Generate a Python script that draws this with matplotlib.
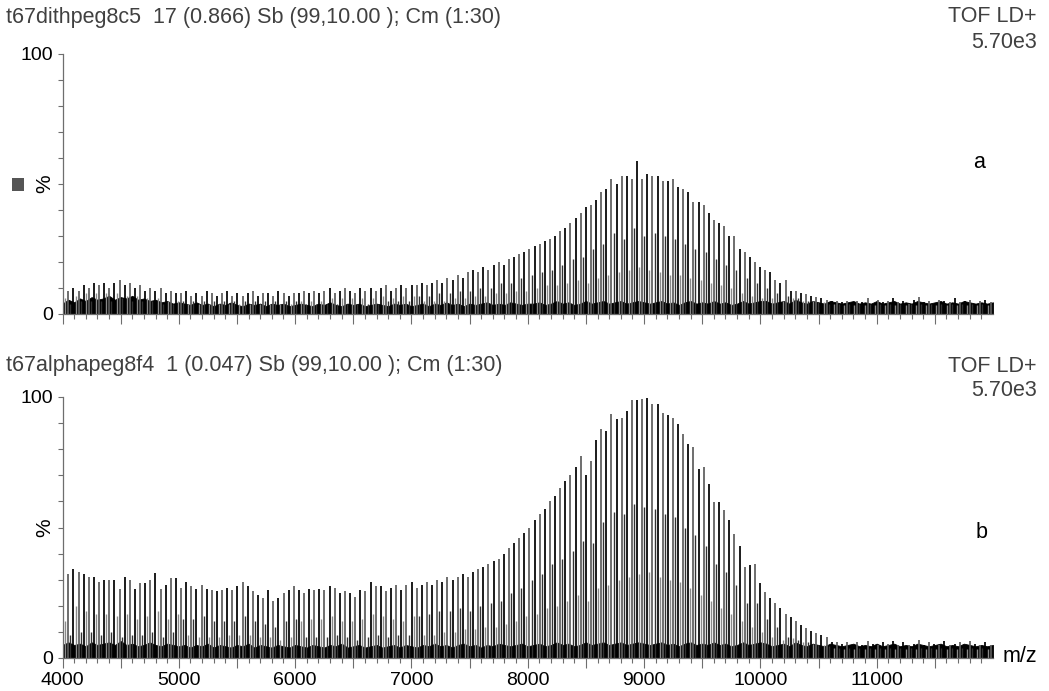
import numpy as np
import matplotlib
matplotlib.use('Agg')
import matplotlib.pyplot as plt
from matplotlib.ticker import FixedLocator, MultipleLocator, FuncFormatter
from matplotlib.patches import Rectangle
import matplotlib.transforms as mtransforms

plt.rcParams['font.family'] = ['Liberation Sans', 'DejaVu Sans']

# PEG ladder: first peak and repeat unit (Da)
first_peak = 4006.0
peg_unit = 44.05
minor_shift = 18.0

# --- panel a (t67dithpeg8c5), % of 5.70e3 ---
top_main = [
    8, 9, 10, 9, 11, 10, 12, 11, 12, 10, 12, 13, 11, 12, 10, 11, 9, 10, 9, 10, 8, 9, 8,
    8, 9, 7, 8, 7, 9, 8, 7, 8, 9, 7, 8, 7, 8, 9, 7, 8, 8, 7, 9, 8, 7, 8,
    8, 9, 8, 9, 8, 9, 10, 8, 9, 10, 9, 8, 10, 9, 10, 9, 10, 11, 9, 10, 11, 10, 11,
    11, 12, 11, 12, 13, 12, 14, 13, 15, 14, 16, 17, 16, 18, 17, 19, 20, 19, 21, 22, 23, 24,
    25, 26, 27, 28, 29, 30, 32, 33, 35, 37,
    39, 41, 42, 44, 47, 48, 52, 50, 53, 53, 52, 59, 52, 54, 53, 53, 51, 51, 52, 49,
    48, 47, 43, 43, 42, 39, 36, 35, 34, 30, 30, 25, 24, 22, 20, 18, 17, 16, 13, 12,
    13, 9, 9, 8, 7.5, 7, 6.5, 6, 5.5, 5, 5, 4.5, 5, 4, 5, 4.5, 6, 4, 5.5, 4.5,
    5, 6, 4.5, 5, 4, 5.5, 6.5, 4.5, 5, 4, 5.5, 5, 4.5, 6, 4.5, 5, 5.5, 4, 5, 5.5, 4.5,
]
top_minor = [
    6, 4, 7, 5, 8, 5, 8, 5, 8, 5, 8, 6, 7, 5, 7, 5, 6, 5, 6, 4, 5, 4, 5,
    5, 4, 5, 4, 5, 4, 5, 4, 5, 4, 5, 4, 5, 4, 5, 4, 5, 4, 5, 4, 5, 4, 5,
    5, 4, 5, 4, 5, 4, 6, 4, 6, 4, 6, 4, 6, 4, 6, 4, 7, 5, 6, 5, 7, 5, 7,
    7, 5, 7, 5, 8, 5, 8, 6, 9, 6, 9, 7, 10, 7, 10, 8, 12, 8, 12, 9, 14, 9,
    15, 10, 16, 11, 17, 11, 19, 12, 21, 13,
    22, 12, 25, 14, 27, 15, 31, 16, 29, 17, 33, 18, 30, 17, 31, 16, 30, 15, 29, 15,
    27, 14, 25, 13, 24, 12, 21, 11, 19, 10, 17, 8, 14, 7, 12, 6, 10, 6, 8, 5,
    7, 6, 6, 5, 5, 5, 4.5, 4.5, 4, 4, 4, 3.5, 4, 3.5, 4, 3.5, 4, 3.5, 4, 3.5,
    4, 3.5, 4, 3.5, 4, 3.5, 4, 3.5, 4, 3.5, 4, 3.5, 4, 3.5, 4, 3.5, 4, 3.5, 4, 3.5, 4,
]
# baseline noise band, every 50 Da from 4000 to 12000
top_floor = [
    4, 5.5, 4.5, 6, 5, 6.5, 5.5, 6, 7, 5.5, 6.5, 6, 7, 5.5, 6, 5, 5.5, 4.5, 5, 4, 4.5,
    4, 3.5, 4.5, 3.5, 4, 3, 4, 3.5, 4.5, 3.5, 3, 4, 3.5, 4, 3, 4, 3.5, 4, 3, 3.5,
    4, 3.5, 3, 4, 3.5, 4.5, 3.5, 3, 4, 3.5, 4, 3, 3.5, 4, 3.5, 3, 4, 3.5, 4, 3,
    3.5, 4, 3, 4, 3.5, 4.5, 3.5, 4, 3, 4, 3.5, 4, 4.5, 3.5, 4, 3.5, 4.5, 4, 3.5, 4,
    4, 4.5, 3.5, 4, 5, 4, 4.5, 3.5, 4, 5, 4, 4.5, 5, 4, 4.5, 5, 4, 4.5, 5, 4.5,
    4, 4.5, 5, 4, 4.5, 3.5, 4.5, 5, 4, 4.5, 4, 5, 4, 4.5, 3.5, 4, 5, 4, 4.5, 5,
    5, 4, 4.5, 5, 4, 5.5, 4.5, 4, 5, 4.5, 4, 5, 4.5, 4, 4.5, 5, 4, 4.5, 4, 5,
    4, 4.5, 5, 4, 4.5, 4, 5, 4.5, 4, 4.5, 5, 4, 4.5, 4, 5, 4.5, 4, 4.5, 4, 4.5,
]

# --- panel b (t67alphapeg8f4), % of 5.70e3 ---
bot_main = [
    22, 32, 34, 33, 32, 31, 31, 29, 30, 30, 30, 26.5, 31, 30, 26.5, 28.7, 28.7, 30, 32.6, 26.6, 28, 30.5, 30.5,
    27, 29, 27.5, 26.5, 28, 26.5, 26, 25.7, 26, 27, 26, 27.5, 29, 27.5, 25.7, 24, 23, 26, 22, 23, 25, 26, 27.5,
    26, 25, 26.5, 26, 26.5, 26, 27.5, 27, 25, 25.5, 25, 23.5, 26, 25.7, 29, 27.5, 27.5, 25.5, 27, 28, 26, 28, 29,
    27, 28, 29, 28, 30, 29, 31, 30, 31, 32, 31, 33, 34, 35, 36, 37, 38, 40, 42, 44, 46, 48,
    50, 53, 55, 57, 60, 62, 65, 68, 70, 73,
    77.5, 70, 75.6, 83.6, 87.8, 87, 93.6, 91.6, 92, 94.7, 98.8, 98.8, 99.2, 99.6, 97.3, 97.3, 94, 93, 92, 89.8,
    85.8, 82, 81, 72.5, 73, 66.8, 59.7, 59.7, 56.8, 52.7, 47.7, 43, 35, 35.5, 36, 28.6, 25.3, 22.9, 21, 19,
    17, 15.6, 14.2, 12.6, 11.4, 10.5, 9.5, 8.9, 8, 6.2, 6, 5.5, 6, 5, 6, 5, 6.5, 5.5, 5, 6,
    5.5, 6.5, 5, 6, 5, 5.5, 7, 5, 6, 5.5, 5, 6.5, 5, 5.5, 6, 5, 6.5, 5.5, 5, 6, 5,
]
bot_minor = [
    14, 9, 20, 10, 18, 10, 17, 9, 17, 10, 16, 8, 17, 9, 15, 9, 16, 10, 18, 8, 15, 10, 17,
    15, 9, 15, 8, 16, 8, 14, 8, 14, 9, 14, 9, 16, 9, 14, 8, 13, 8, 12, 7, 14, 8, 15,
    14, 8, 15, 8, 15, 8, 16, 9, 14, 8, 14, 7, 15, 8, 17, 9, 16, 8, 15, 9, 14, 9, 16,
    16, 9, 17, 9, 18, 10, 18, 10, 19, 11, 18, 11, 20, 12, 21, 12, 22, 13, 25, 14, 27, 16,
    30, 17, 32, 19, 36, 20, 38, 22, 41, 24,
    45, 22, 44, 27, 52, 28, 56, 30, 55, 31, 59, 32, 58, 33, 57, 31, 55, 30, 54, 29,
    50, 27, 47, 24, 43, 22, 36, 19, 33, 17, 28, 14, 21, 12, 21, 10, 15, 8, 12, 7,
    8, 7.5, 7, 6, 6, 5.5, 5, 5, 4.5, 4, 4, 3.5, 4, 3.5, 4, 3.5, 4, 3.5, 4, 3.5,
    4, 3.5, 4, 3.5, 4, 3.5, 4, 3.5, 4, 3.5, 4, 3.5, 4, 3.5, 4, 3.5, 4, 3.5, 4, 3.5, 4,
]
bot_floor = [
    5, 6, 5, 5.5, 4.5, 6, 5, 5.5, 6, 5, 6.5, 5, 5.5, 4.5, 5, 6, 5, 4.5, 5.5, 5, 4.5,
    5, 4, 5, 4.5, 5.5, 4, 5, 4.5, 4, 5, 4.5, 5.5, 4, 5, 4.5, 4, 5, 4.5, 4, 5,
    4.5, 4, 5, 4.5, 4, 5, 4.5, 5.5, 4, 4.5, 5, 4, 4.5, 5, 4, 4.5, 5, 4, 5, 4.5,
    4, 5, 4.5, 5.5, 4.5, 5, 4, 5, 5.5, 4.5, 5, 4, 5, 4.5, 5.5, 5, 4.5, 5, 5.5, 4.5,
    5, 5.5, 4.5, 5, 6, 5, 5.5, 4.5, 5, 6, 5, 5.5, 6, 5, 5.5, 6, 5, 5.5, 6, 5.5,
    5, 5.5, 6, 5, 5.5, 4.5, 5.5, 6, 5, 5.5, 5, 6, 5, 5.5, 4.5, 5, 6, 5, 5.5, 6,
    5.5, 4.5, 5, 5.5, 4.5, 6, 5, 4.5, 5.5, 5, 4.5, 5.5, 5, 4.5, 5, 5.5, 4.5, 5, 4.5, 5.5,
    4.5, 5, 5.5, 4.5, 5, 4.5, 5.5, 5, 4.5, 5, 5.5, 4.5, 5, 4.5, 5.5, 5, 4.5, 5, 4.5, 5,
]

titles = ['t67dithpeg8c5  17 (0.866) Sb (99,10.00 ); Cm (1:30)',
          't67alphapeg8f4  1 (0.047) Sb (99,10.00 ); Cm (1:30)']
mode_text = 'TOF LD+'
scale_text = '5.70e3'
tags = ['a', 'b']

W, H = 1049, 691
fig = plt.figure(figsize=(W / 100, H / 100), dpi=100)
ax_top = fig.add_axes([62.5 / W, 1 - 314 / H, 930.5 / W, 260 / H])
ax_bot = fig.add_axes([62.5 / W, 1 - 658 / H, 930.5 / W, 261 / H])

GREY = '#5c5c5c'
AXC = '#6e6e6e'


def draw_spectrum(ax, main, minor, floor):
    mz = first_peak + peg_unit * np.arange(len(main))
    mz2 = first_peak + minor_shift + peg_unit * np.arange(len(minor))
    main = np.array(main)
    minor = np.array(minor)
    fx = np.linspace(4000, 12000, len(floor))
    ax.fill_between(fx, 0, floor, color='black', lw=0.6, zorder=1)
    ax.vlines(mz2[::2], 0, minor[::2], colors='#8a8a8a', lw=1.0, zorder=1.5)
    ax.vlines(mz2[1::2], 0, minor[1::2], colors='#333333', lw=1.0, zorder=1.5)
    ax.vlines(mz[::2], 0, main[::2], colors='black', lw=1.25, zorder=2)
    ax.vlines(mz[1::2], 0, main[1::2], colors=GREY, lw=1.25, zorder=2)


def style_axis(ax, show_xlabels):
    ax.set_xlim(4000, 12000)
    ax.set_ylim(0, 100)
    for s in ['top', 'right']:
        ax.spines[s].set_visible(False)
    for s in ['left', 'bottom']:
        ax.spines[s].set_color(AXC)
        ax.spines[s].set_linewidth(0.9)
    ax.yaxis.set_major_locator(MultipleLocator(10))
    ax.yaxis.set_major_formatter(FuncFormatter(lambda v, p: '%d' % v if int(round(v)) in (0, 100) else ''))
    ax.xaxis.set_major_locator(FixedLocator(np.arange(4000, 12000, 500)))
    ax.xaxis.set_minor_locator(FixedLocator(np.arange(4000, 12000, 100)))
    ax.xaxis.set_major_formatter(FuncFormatter(lambda v, p: '%d' % v if int(v) % 1000 == 0 else ''))
    ax.tick_params(axis='y', length=3.6, width=0.8, color=AXC, pad=3, labelsize=14)
    ax.tick_params(axis='x', which='major', length=7.2, width=0.8, color=AXC, pad=3, labelsize=14)
    ax.tick_params(axis='x', which='minor', length=3.6, width=0.8, color=AXC)
    if not show_xlabels:
        ax.tick_params(axis='x', labelbottom=False)
    trans = mtransforms.blended_transform_factory(ax.transAxes, ax.transData)
    ax.text(-18 / 930.5, 50, '%', rotation=90, transform=trans, ha='center', va='center', fontsize=15)


draw_spectrum(ax_top, top_main, top_minor, top_floor)
draw_spectrum(ax_bot, bot_main, bot_minor, bot_floor)
style_axis(ax_top, False)
style_axis(ax_bot, True)

# headers
for title, ytitle, yscale in [(titles[0], 17, 42), (titles[1], 366, 390)]:
    fig.text(6 / W, 1 - ytitle / H, title, ha='left', va='center', fontsize=15.5, color='#404040')
    fig.text(1037 / W, 1 - ytitle / H, mode_text, ha='right', va='center', fontsize=15.5, color='#404040')
    fig.text(1037 / W, 1 - yscale / H, scale_text, ha='right', va='center', fontsize=15.5, color='#404040')

fig.text(979 / W, 1 - 163 / H, tags[0], ha='center', va='center', fontsize=15.5)
fig.text(982 / W, 1 - 532 / H, tags[1], ha='center', va='center', fontsize=15.5)
fig.text(1020 / W, 1 - 657 / H, 'm/z', ha='center', va='center', fontsize=15.5)

fig.patches.append(Rectangle((12 / W, 1 - 191 / H), 12 / W, 13 / H, transform=fig.transFigure,
                             facecolor='#555555', edgecolor='none'))

fig.savefig('out.png', dpi=100)
